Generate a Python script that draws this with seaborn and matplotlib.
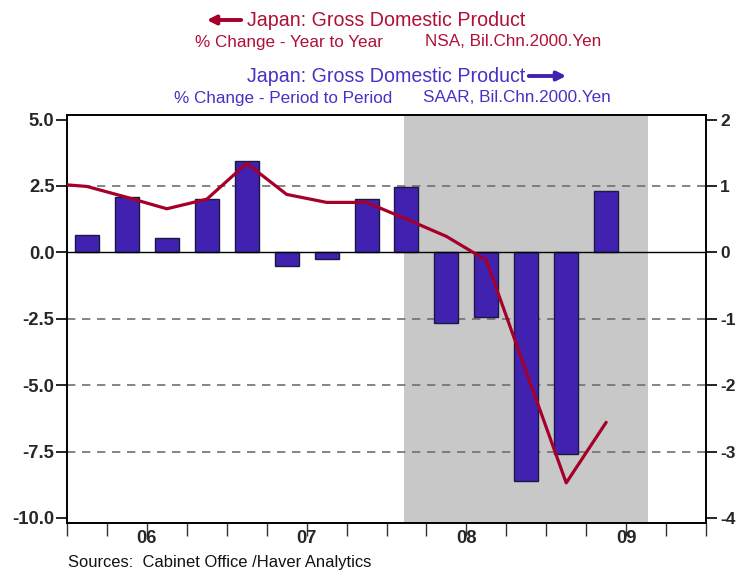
import matplotlib
matplotlib.use("Agg")
import matplotlib.pyplot as plt
from matplotlib.patches import FancyArrowPatch
import seaborn as sns
import numpy as np
import pandas as pd

# Japan real GDP, quarterly
quarters = ["2005Q4",
            "2006Q1", "2006Q2", "2006Q3", "2006Q4",
            "2007Q1", "2007Q2", "2007Q3", "2007Q4",
            "2008Q1", "2008Q2", "2008Q3", "2008Q4",
            "2009Q1", "2009Q2"]
# % change year to year (left axis)
yoy = [2.60, 2.48, 2.07, 1.64, 2.00, 3.35, 2.18, 1.88, 1.88,
       1.25, 0.60, -0.30, -4.50, -8.68, -6.40]
# % change period to period (right axis), from 2006Q1
qoq = [0.26, 0.83, 0.21, 0.81, 1.37, -0.20, -0.10, 0.81,
       0.98, -1.07, -0.97, -3.44, -3.04, 0.92]

year_labels = ["06", "07", "08", "09"]
recession = (2008.11, 2009.64)

RED = "#A5002A"
BLUE = "#4122B0"
RED_TXT = "#B01035"
BLUE_TXT = "#4632C4"


def qpos(q):
    y, n = int(q[:4]), int(q[-1])
    return y + (n - 0.5) / 4.0


line_df = pd.DataFrame({"x": [qpos(q) for q in quarters], "yoy": yoy})
bar_df = pd.DataFrame({"x": [qpos(q) for q in quarters[1:]], "qoq": qoq})

sns.set_style("white")
plt.rcParams["font.family"] = ["Liberation Sans", "DejaVu Sans"]

W, H = 736, 572
fig = plt.figure(figsize=(W / 100, H / 100), dpi=100)
ax2 = fig.add_axes([67 / W, 1 - 523 / H, (706 - 67) / W, (523 - 115) / H])
ax = ax2.twinx()
ax.yaxis.tick_left()
ax2.yaxis.tick_right()
ax.set_zorder(ax2.get_zorder() + 1)
ax.patch.set_visible(False)

# recession shading, grid and zero line sit behind the marks
ax2.axvspan(*recession, color="#C8C8C8", lw=0, zorder=0)
for g in [1, -1, -2, -3]:
    ax2.axhline(g, color="#707070", lw=1.2, ls=(0, (5, 4)), zorder=0.5)

sns.barplot(data=bar_df, x="x", y="qoq", native_scale=True, width=0.6,
            color=BLUE, edgecolor="#1C1840", linewidth=1.0, saturation=1,
            ax=ax2, zorder=2)
ax2.axhline(0, color="black", lw=1.0, zorder=3)

sns.lineplot(data=line_df, x="x", y="yoy", color=RED, lw=2.3, ax=ax,
             zorder=5)

for a in (ax, ax2):
    a.set_xlim(2006, 2010)
    a.set_xlabel("")
    a.set_ylabel("")
    for s in a.spines.values():
        s.set_color("black")
        s.set_linewidth(1.2)

ax.set_ylim(-10.19, 5.17)
ax2.set_ylim(-4.076, 2.068)
ax.set_yticks([5, 2.5, 0, -2.5, -5, -7.5, -10])
ax.set_yticklabels(["5.0", "2.5", "0.0", "-2.5", "-5.0", "-7.5", "-10.0"])
ax2.set_yticks([2, 1, 0, -1, -2, -3, -4])
ax2.set_yticklabels(["2", "1", "0", "-1", "-2", "-3", "-4"])

ax.tick_params(axis="y", which="major", direction="out", length=8,
               width=1.2, color="black", pad=1, labelsize=13.3)
ax2.tick_params(axis="y", which="major", direction="out", length=8,
                width=1.2, color="black", pad=2, labelsize=12.5)
for lab in ax.get_yticklabels() + ax2.get_yticklabels():
    lab.set_fontweight("bold")

# quarter boundary ticks, year labels at mid-year
ax2.xaxis.set_visible(True)
ax2.xaxis.remove_overlapping_locs = False
ax2.set_xticks(np.arange(2006, 2010.01, 0.25))
ax2.set_xticklabels([""] * 17)
ax2.set_xticks([2006.5, 2007.5, 2008.5, 2009.5], year_labels, minor=True)
ax2.tick_params(axis="x", which="major", direction="out", length=9,
                width=1.0, color="#333333", bottom=True, labelbottom=True)
ax2.tick_params(axis="x", which="minor", length=0, pad=5, labelsize=13.3,
                bottom=True, labelbottom=True)
for lab in ax2.get_xticklabels(minor=True):
    lab.set_fontweight("bold")


def px(x, y):
    return x / W, 1 - y / H


fig.text(*px(386, 21), "Japan: Gross Domestic Product", color=RED_TXT,
         fontsize=14.1, ha="center", va="center")
fig.text(*px(383, 42), "% Change - Year to Year", color=RED_TXT,
         fontsize=12.3, ha="right", va="center")
fig.text(*px(425, 42), "NSA, Bil.Chn.2000.Yen", color=RED_TXT,
         fontsize=12.3, ha="left", va="center")
fig.text(*px(386, 77), "Japan: Gross Domestic Product", color=BLUE_TXT,
         fontsize=14.1, ha="center", va="center")
fig.text(*px(392, 98), "% Change - Period to Period", color=BLUE_TXT,
         fontsize=12.3, ha="right", va="center")
fig.text(*px(423, 98), "SAAR, Bil.Chn.2000.Yen", color=BLUE_TXT,
         fontsize=12.3, ha="left", va="center")

fig.add_artist(FancyArrowPatch(
    px(244, 20), px(204, 20), transform=fig.transFigure,
    arrowstyle="-|>", mutation_scale=13, color=RED, lw=2.8))
fig.add_artist(FancyArrowPatch(
    px(526, 76), px(569, 76), transform=fig.transFigure,
    arrowstyle="-|>", mutation_scale=13, color=BLUE, lw=2.8))

fig.text(*px(68, 563), "Sources:  Cabinet Office /Haver Analytics",
         fontsize=11.9, ha="left", va="center", color="#111111")

fig.savefig("out.png", dpi=100)
